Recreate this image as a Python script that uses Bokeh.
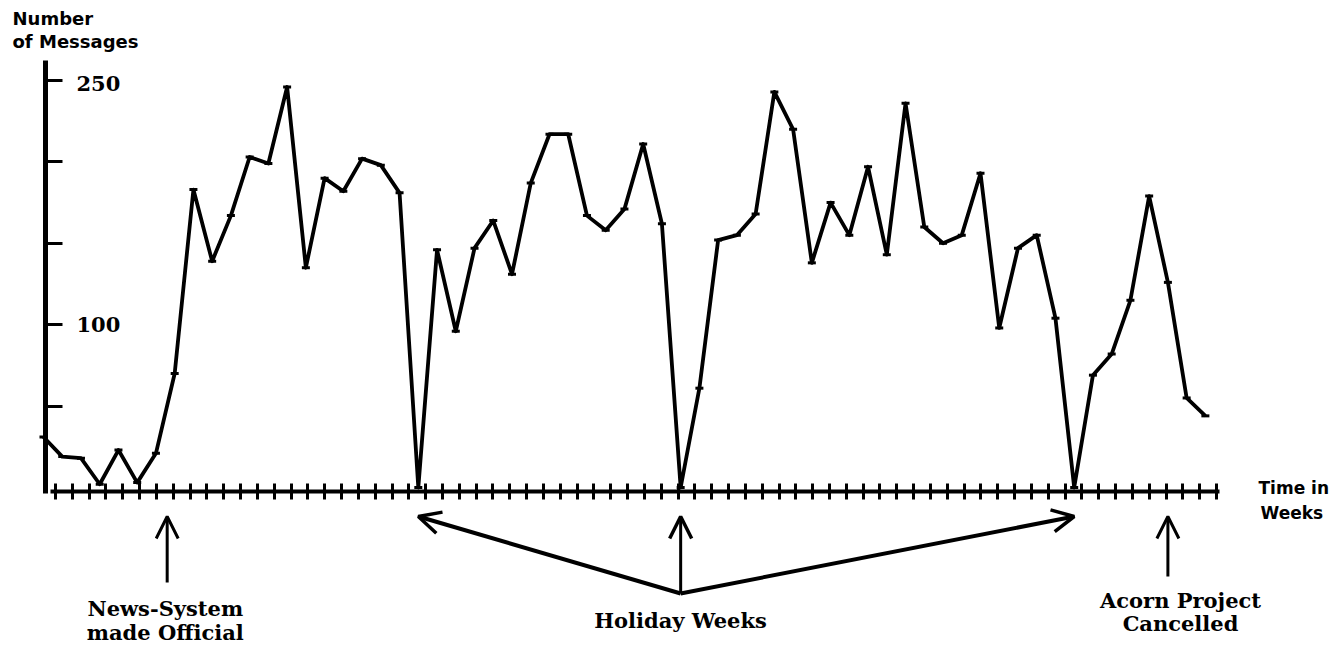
from bokeh.plotting import figure
from bokeh.models import LinearAxis, FixedTicker, Arrow, OpenHead, Range1d
from bokeh.core.properties import value
from bokeh.embed import file_html
from bokeh.resources import INLINE
import numpy as np

# ---------------- data ----------------
weeks = list(range(63))
messages = [31, 19, 18, 2, 23, 3, 21, 70, 183, 139,
            167, 203, 199, 246, 135, 190, 182, 202, 198, 181,
            0, 146, 96, 147, 164, 131, 187, 217, 217, 167,
            158, 171, 211, 162, 0, 61, 152, 155, 168, 243,
            220, 138, 175, 155, 197, 143, 236, 160, 150, 155,
            193, 98, 147, 155, 104, 0, 69, 82, 115, 179,
            126, 55, 44]
y_ticks = [50, 100, 150, 200, 250]
y_tick_labels = ["250", "100"]
y_tick_label_values = [250, 100]
holiday_weeks = [20, 34, 55]
news_week = 6.6
acorn_week = 60
news_label = ["News-System", "made Official"]
holiday_label = "Holiday Weeks"
acorn_label = ["Acorn Project", "Cancelled"]
y_title = ["Number", "of Messages"]
x_title = ["Time in", "Weeks"]

# ---------------- layout helpers (pixel geometry of the picture) ----------------
W, H = 1330, 660
OFF = 0                   # canvas offset in the photographed page
X0, DX = 43.0, 18.74      # picture x of week 0, pixels per week
Y0, DY = 487.0, 1.628     # picture y of value 0, pixels per message


def wx(px):
    return (px - X0) / DX


def wy(py):
    return (Y0 - py) / DY


p = figure(width=W, height=H,
           x_range=Range1d(wx(OFF), wx(OFF + W)), y_range=Range1d(wy(OFF + H), wy(OFF)),
           x_axis_type=None, y_axis_type=None,
           toolbar_location=None, output_backend="svg", min_border=0)
p.outline_line_color = None
p.background_fill_color = "white"

# x axis with crossing ticks
x_tick_pos = list(np.linspace(wx(55), wx(1216), 70))
xaxis = LinearAxis(fixed_location=wy(491), bounds=(wx(50), wx(1219)),
                   ticker=FixedTicker(ticks=x_tick_pos),
                   major_tick_in=8, major_tick_out=8,
                   major_tick_line_width=3, major_tick_line_color="black",
                   axis_line_width=4, axis_line_color="black",
                   major_label_text_color=None, minor_tick_line_color=None)
p.add_layout(xaxis, "below")

# y axis with inward ticks
yaxis = LinearAxis(fixed_location=wx(45), bounds=(wy(493), wy(60)),
                   ticker=FixedTicker(ticks=y_ticks),
                   major_tick_in=17, major_tick_out=0,
                   major_tick_line_width=3, major_tick_line_color="black",
                   axis_line_width=5, axis_line_color="black",
                   major_label_text_color=None, minor_tick_line_color=None)
p.add_layout(yaxis, "left")

# y tick labels inside
p.text(x=[wx(76)] * len(y_tick_labels), y=y_tick_label_values, text=y_tick_labels,
       y_offset=[3, 0],
       text_font=value("DejaVu Serif"), text_font_style="bold",
       text_font_size="21px", text_align="left", text_baseline="middle",
       text_color="black")

# data line
p.line(weeks, messages, line_width=3.8, line_color="black", line_join="round")
p.scatter(weeks, messages, marker="dash", size=8, line_width=3, line_color="black")

# arrows
tip_y = wy(516)
for hw in holiday_weeks:
    p.add_layout(Arrow(end=OpenHead(size=22, line_width=3.5, line_color="black"),
                       x_start=holiday_weeks[1], y_start=wy(593),
                       x_end=hw, y_end=tip_y,
                       line_width=4 if hw != holiday_weeks[1] else 3,
                       line_color="black"))
p.add_layout(Arrow(end=OpenHead(size=22, line_width=3, line_color="black"),
                   x_start=news_week, y_start=wy(582), x_end=news_week, y_end=tip_y,
                   line_width=3, line_color="black"))
p.add_layout(Arrow(end=OpenHead(size=22, line_width=3, line_color="black"),
                   x_start=acorn_week, y_start=wy(576), x_end=acorn_week, y_end=tip_y,
                   line_width=3, line_color="black"))

serif = dict(text_font=value("DejaVu Serif"), text_font_style="bold",
             text_font_size="21px", text_align="center", text_baseline="middle",
             text_color="black")
p.text(x=[news_week - 0.1] * 2, y=[wy(608), wy(632)], text=news_label, **serif)
p.text(x=[wx(680)], y=[wy(620)], text=[holiday_label], **serif)
p.text(x=[wx(1180)] * 2, y=[wy(600), wy(623)], text=acorn_label, **serif)

sans = dict(text_font=value("DejaVu Sans"), text_font_style="bold",
            text_font_size="18px", text_align="left", text_baseline="middle",
            text_color="black")
p.text(x=[wx(12)] * 2, y=[wy(18), wy(41)], text=y_title, **sans)
p.text(x=[wx(1258), wx(1260)], y=[wy(487), wy(512)], text=x_title,
       **{**sans, "text_font_size": "17px"})

open("out.html", "w").write(file_html(p, INLINE))
